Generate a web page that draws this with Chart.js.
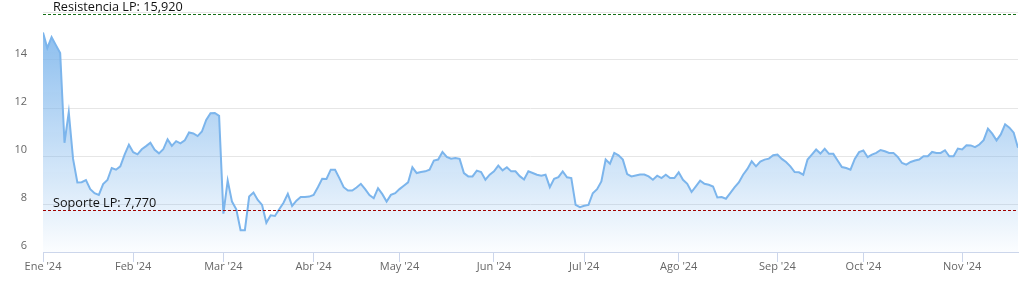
<!DOCTYPE html>
<html>
    <head>
        <title>Precio 2024</title>
        <meta charset="utf-8">
        <style>
            body { margin: 0; background: #fff; }
            .chart-container { position: relative; width: 1024px; height: 281px; }
        </style>
    </head>
    <body>
        <div class="chart-container">
            <canvas id="myChart"></canvas>
        </div>
        <script src="https://cdn.jsdelivr.net/npm/chart.js@4.4.1/dist/chart.umd.min.js"></script>
        <script>
            // precio de cierre, una sesion por punto (Ene - Nov 2024)
            var precios = [
                15.15, 14.5, 14.95, 14.62, 14.29, 10.55, 11.83, 9.88, 8.9, 8.91,
                9.0, 8.62, 8.45, 8.38, 8.83, 9.0, 9.5, 9.43, 9.57, 10.06,
                10.47, 10.16, 10.07, 10.28, 10.41, 10.55, 10.26, 10.11, 10.28, 10.69,
                10.42, 10.62, 10.53, 10.65, 10.98, 10.94, 10.83, 11.02, 11.5, 11.78,
                11.79, 11.67, 7.6, 8.98, 8.1, 7.78, 6.91, 6.91, 8.31, 8.48,
                8.17, 7.96, 7.22, 7.53, 7.5, 7.78, 8.05, 8.42, 7.92, 8.14,
                8.29, 8.29, 8.31, 8.38, 8.7, 9.05, 9.04, 9.43, 9.43, 9.08,
                8.7, 8.56, 8.56, 8.69, 8.84, 8.62, 8.37, 8.24, 8.66, 8.41,
                8.1, 8.38, 8.45, 8.62, 8.76, 8.9, 9.53, 9.29, 9.33, 9.36,
                9.43, 9.81, 9.85, 10.17, 9.96, 9.89, 9.92, 9.88, 9.29, 9.15,
                9.15, 9.39, 9.33, 9.01, 9.22, 9.36, 9.6, 9.4, 9.53, 9.36,
                9.36, 9.16, 9.02, 9.36, 9.29, 9.22, 9.18, 9.22, 8.7, 9.05,
                9.12, 9.36, 9.11, 9.08, 7.96, 7.87, 7.93, 7.96, 8.45, 8.62,
                8.94, 9.85, 9.68, 10.13, 10.03, 9.85, 9.25, 9.15, 9.19, 9.23,
                9.23, 9.15, 9.01, 9.18, 9.08, 9.22, 9.08, 9.08, 9.32, 9.01,
                8.84, 8.5, 8.73, 8.97, 8.84, 8.8, 8.73, 8.27, 8.29, 8.22,
                8.45, 8.69, 8.9, 9.22, 9.46, 9.78, 9.57, 9.77, 9.85, 9.89,
                10.03, 10.06, 9.88, 9.75, 9.57, 9.33, 9.32, 9.22, 9.85, 10.06,
                10.27, 10.1, 10.3, 10.09, 10.09, 9.81, 9.54, 9.5, 9.43, 9.88,
                10.16, 10.23, 9.95, 10.06, 10.13, 10.25, 10.2, 10.13, 10.13, 9.96,
                9.71, 9.64, 9.75, 9.81, 9.85, 9.99, 9.99, 10.17, 10.13, 10.13,
                10.24, 9.99, 9.99, 10.31, 10.27, 10.45, 10.44, 10.37, 10.48, 10.66,
                11.14, 10.93, 10.65, 10.9, 11.32, 11.18, 10.97, 10.34
            ];

            // primera sesion de cada mes (indice en precios)
            var mesInicio = [0, 21, 42, 63, 83, 105, 126, 148, 171, 191, 214];
            var mesEtiquetas = ["Ene '24", "Feb '24", "Mar '24", "Abr '24", "May '24", "Jun '24",
                                "Jul '24", "Ago '24", "Sep '24", "Oct '24", "Nov '24"];

            var yTicks = [6, 8, 10, 12, 14, 16];

            var resistencia = 15.92;
            var soporte = 7.77;

            var puntos = precios.map(function(v, i) { return {x: i, y: v}; });

            // lineas de soporte / resistencia
            var lineasLP = {
                id: 'lineasLP',
                afterDatasetsDraw: function(chart) {
                    var ctx = chart.ctx, area = chart.chartArea, ys = chart.scales.y;
                    var lineas = [
                        {valor: resistencia, texto: 'Resistencia LP: ', color: '#157015'},
                        {valor: soporte, texto: 'Soporte LP: ', color: '#a00000'}
                    ];
                    ctx.save();
                    lineas.forEach(function(l) {
                        var y = Math.round(ys.getPixelForValue(l.valor)) + 0.5;
                        ctx.strokeStyle = l.color;
                        ctx.lineWidth = 1;
                        ctx.setLineDash([3, 2]);
                        ctx.beginPath();
                        ctx.moveTo(area.left, y);
                        ctx.lineTo(area.right, y);
                        ctx.stroke();
                        ctx.setLineDash([]);
                        ctx.fillStyle = '#111';
                        ctx.font = '12.7px "Open Sans", sans-serif';
                        ctx.textBaseline = 'alphabetic';
                        ctx.fillText(l.texto + l.valor.toFixed(3).replace('.', ','), area.left + 10, y - 4);
                    });
                    ctx.restore();
                }
            };

            Chart.defaults.font.family = '"Open Sans", sans-serif';
            Chart.defaults.font.size = 11;
            Chart.defaults.color = '#666666';

            var ctx = document.getElementById('myChart').getContext('2d');
            var chart = new Chart(ctx, {
                type: 'line',
                data: {
                    datasets: [{
                        label: 'Precio',
                        data: puntos,
                        borderColor: '#7cb5ec',
                        borderWidth: 2,
                        pointRadius: 0,
                        tension: 0,
                        fill: 'start',
                        backgroundColor: function(c) {
                            var a = c.chart.chartArea;
                            if (!a) return 'rgba(124,181,236,0.4)';
                            var g = c.chart.ctx.createLinearGradient(0, a.top, 0, a.bottom);
                            g.addColorStop(0, 'rgba(124,181,236,0.95)');
                            g.addColorStop(1, 'rgba(124,181,236,0.03)');
                            return g;
                        }
                    }]
                },
                options: {
                    responsive: true,
                    maintainAspectRatio: false,
                    animation: false,
                    layout: { padding: { top: 12, right: 6, left: 0, bottom: 0 } },
                    plugins: { legend: { display: false }, tooltip: { enabled: false } },
                    scales: {
                        x: {
                            type: 'linear',
                            min: 0,
                            max: precios.length - 1,
                            afterBuildTicks: function(s) {
                                s.ticks = mesInicio.map(function(v) { return {value: v}; });
                            },
                            afterFit: function(s) {
                                s.height = 29;
                                s.paddingLeft = 0;
                                s.paddingRight = 0;
                            },
                            ticks: {
                                autoSkip: false,
                                maxRotation: 0,
                                padding: -2,
                                callback: function(v) {
                                    var k = mesInicio.indexOf(v);
                                    return k >= 0 ? mesEtiquetas[k] : '';
                                }
                            },
                            grid: {
                                drawOnChartArea: false,
                                drawTicks: true,
                                tickLength: 10,
                                color: '#ccd6eb'
                            },
                            border: { color: '#ccd6eb' }
                        },
                        y: {
                            min: 6,
                            max: 16,
                            afterBuildTicks: function(s) {
                                s.ticks = yTicks.map(function(v) { return {value: v}; });
                            },
                            afterFit: function(s) {
                                s.width = 43;
                                s.paddingTop = 0;
                                s.paddingBottom = 0;
                            },
                            ticks: {
                                padding: 16,
                                labelOffset: -6,
                                callback: function(v) { return v === 16 ? '' : v; }
                            },
                            grid: { color: '#e6e6e6', drawTicks: false },
                            border: { display: false }
                        }
                    }
                },
                plugins: [lineasLP]
            });
        </script>
    </body>
</html>
